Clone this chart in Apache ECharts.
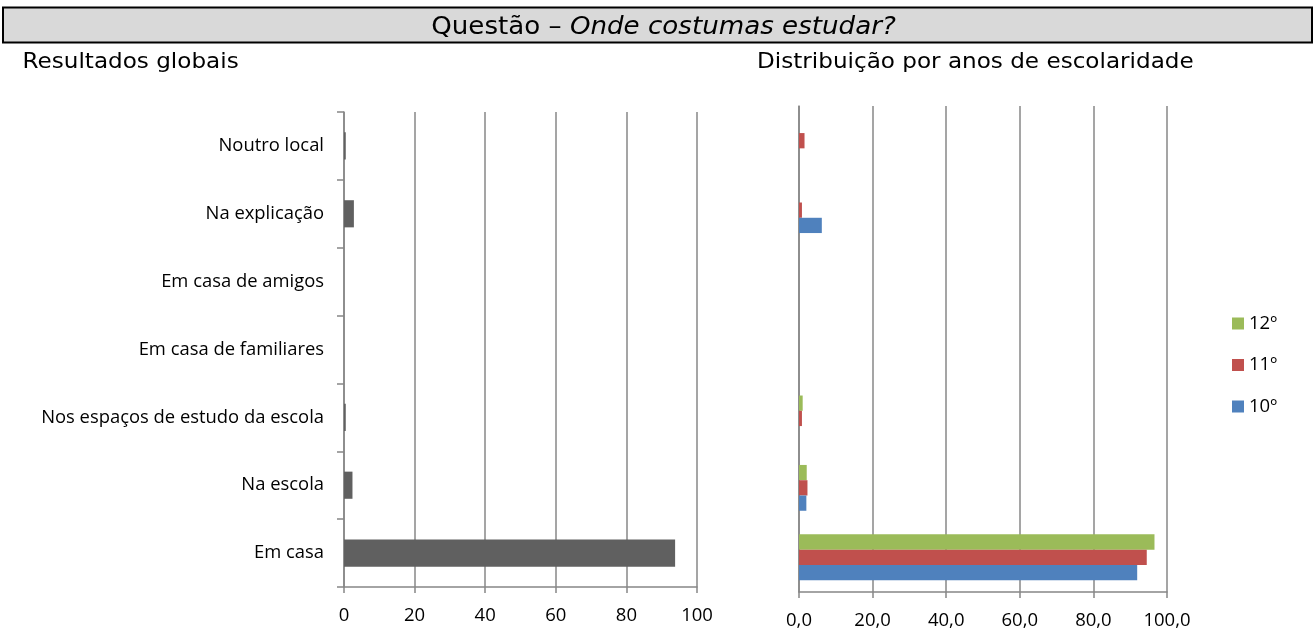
<!DOCTYPE html>
<html>
<head>
<meta charset="utf-8">
<script src="https://cdn.jsdelivr.net/npm/echarts@6/dist/echarts.min.js"></script>
<style>
  html, body { margin: 0; padding: 0; background: #ffffff; }
  #chart { width: 1316px; height: 630px; }
</style>
</head>
<body>
<div id="chart"></div>
<script>
// Categories, listed bottom to top as the category axis draws them
const categories = [
  'Em casa',
  'Na escola',
  'Nos espaços de estudo da escola',
  'Em casa de familiares',
  'Em casa de amigos',
  'Na explicação',
  'Noutro local'
];

// Overall results (%)
const globalValues = [93.8, 2.4, 0.5, 0, 0, 2.8, 0.5];

// Results by school year (%)
const year10 = [91.9, 2.0, 0, 0, 0, 6.2, 0];
const year11 = [94.5, 2.3, 0.8, 0, 0, 0.8, 1.5];
const year12 = [96.6, 2.1, 1.0, 0, 0, 0, 0];

const yearNames = ['10º', '11º', '12º'];
const xTicks = [0, 20, 40, 60, 80, 100];

const labelFont = '"Open Sans", "Liberation Sans", sans-serif';
const headFont = '"DejaVu Sans", Verdana, sans-serif';
const gridGray = '#878787';

const chart = echarts.init(document.getElementById('chart'), null, { renderer: 'canvas' });

const valueAxisBase = {
  type: 'value',
  min: xTicks[0],
  max: xTicks[xTicks.length - 1],
  interval: xTicks[1] - xTicks[0],
  axisLine: { show: true, lineStyle: { color: gridGray, width: 1.5 } },
  axisTick: { show: true, length: 6, lineStyle: { color: gridGray, width: 1.5 } },
  splitLine: { show: true, lineStyle: { color: gridGray, width: 1.5 } },
  axisLabel: { color: '#000', fontFamily: labelFont, fontSize: 18.5, margin: 19 }
};

const barBase = {
  type: 'bar',
  xAxisIndex: 1,
  yAxisIndex: 1,
  barGap: '0%',
  barCategoryGap: '34%'
};

chart.setOption({
  animation: false,
  backgroundColor: '#ffffff',
  graphic: [
    {
      type: 'rect',
      shape: { x: 3, y: 7.5, width: 1309, height: 35 },
      style: { fill: '#d9d9d9', stroke: '#000', lineWidth: 2 }
    },
    {
      type: 'text',
      x: 663.5,
      y: 27.5,
      scaleX: 1.045,
      style: {
        text: '{n|Questão – }{i|Onde costumas estudar?}',
        textAlign: 'center',
        textVerticalAlign: 'middle',
        rich: {
          n: { fontFamily: headFont, fontSize: 25, fill: '#000' },
          i: { fontFamily: headFont, fontSize: 25, fontStyle: 'italic', fill: '#000' }
        }
      }
    },
    {
      type: 'text',
      x: 22.5,
      y: 63,
      scaleX: 1.1,
      style: {
        text: 'Resultados globais',
        fontFamily: headFont, fontSize: 21, fill: '#000',
        textAlign: 'left', textVerticalAlign: 'middle'
      }
    },
    {
      type: 'text',
      x: 757,
      y: 63,
      scaleX: 1.1,
      style: {
        text: 'Distribuição por anos de escolaridade',
        fontFamily: headFont, fontSize: 21, fill: '#000',
        textAlign: 'left', textVerticalAlign: 'middle'
      }
    }
  ],
  legend: {
    orient: 'vertical',
    left: 1227,
    top: 309,
    itemWidth: 12,
    itemHeight: 12,
    itemGap: 22.5,
    icon: 'rect',
    data: ['12º', '11º', '10º'],
    textStyle: { fontFamily: labelFont, fontSize: 18.5, color: '#000' }
  },
  grid: [
    { left: 344, right: 619, top: 112, bottom: 43, containLabel: false },
    { left: 799, right: 149, top: 106, bottom: 37, containLabel: false }
  ],
  xAxis: [
    Object.assign({}, valueAxisBase, { gridIndex: 0 }),
    Object.assign({}, valueAxisBase, {
      gridIndex: 1,
      axisLabel: Object.assign({}, valueAxisBase.axisLabel, {
        formatter: v => v.toFixed(1).replace('.', ',')
      })
    })
  ],
  yAxis: [
    {
      type: 'category',
      gridIndex: 0,
      data: categories,
      axisLine: { show: true, lineStyle: { color: gridGray, width: 1.5 } },
      axisTick: { show: true, length: 7, lineStyle: { color: gridGray, width: 1.5 } },
      axisLabel: { color: '#000', fontFamily: labelFont, fontSize: 18.4, margin: 20 }
    },
    {
      type: 'category',
      gridIndex: 1,
      data: categories,
      axisLine: { show: true, lineStyle: { color: gridGray, width: 1.5 } },
      axisTick: { show: false },
      axisLabel: { show: false }
    }
  ],
  series: [
    {
      name: 'Global',
      type: 'bar',
      xAxisIndex: 0,
      yAxisIndex: 0,
      data: globalValues,
      barCategoryGap: '60%',
      itemStyle: { color: '#606060' }
    },
    // 12º drawn first so it sits on top within each category
    Object.assign({}, barBase, { name: yearNames[2], data: year12, itemStyle: { color: '#9bbb59' } }),
    Object.assign({}, barBase, { name: yearNames[1], data: year11, itemStyle: { color: '#c0504d' } }),
    Object.assign({}, barBase, { name: yearNames[0], data: year10, itemStyle: { color: '#4f81bd' } })
  ]
});
</script>
</body>
</html>
